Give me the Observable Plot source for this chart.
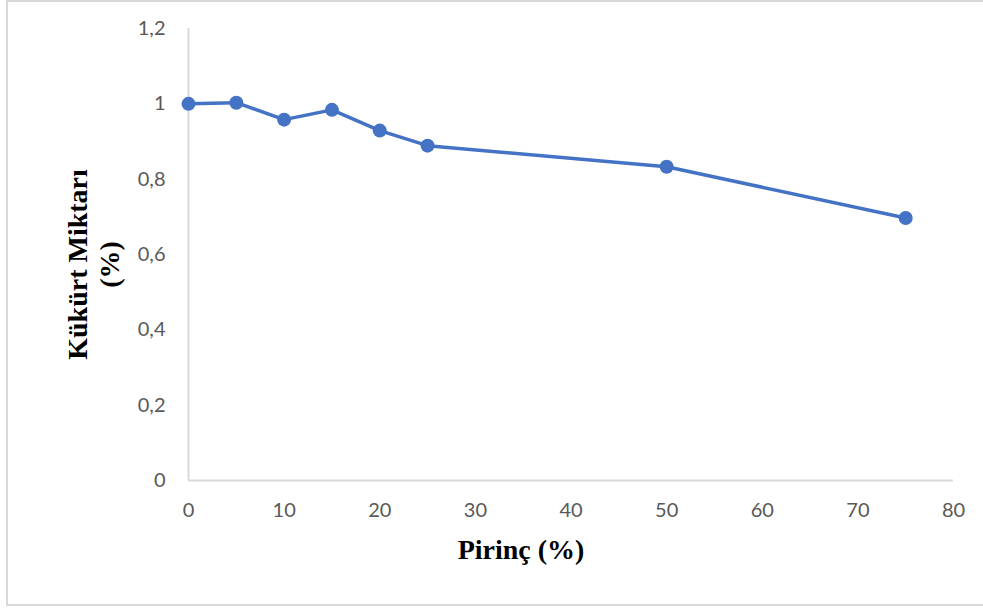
<!DOCTYPE html>
<html>
<head>
<meta charset="utf-8">
<script src="https://cdn.jsdelivr.net/npm/d3@7"></script>
<script src="https://cdn.jsdelivr.net/npm/@observablehq/plot@0.6"></script>
<style>
  html, body { margin: 0; padding: 0; background: #fff; overflow: hidden; }
  #wrap { position: relative; width: 983px; height: 608px; }
  #frame { position: absolute; left: 6px; top: 0px; width: 1000px; height: 606px;
           border: 2px solid #d9d9d9; box-sizing: border-box; pointer-events: none; }
  #chart { position: absolute; left: 0; top: 0; }
</style>
</head>
<body>
<div id="wrap"><div id="chart"></div><div id="frame"></div></div>
<script>
// Data
const pirinc = [0, 5, 10, 15, 20, 25, 50, 75];
const kukurt = [1.0, 1.003, 0.958, 0.984, 0.929, 0.889, 0.833, 0.697];

const xTicks = [0, 10, 20, 30, 40, 50, 60, 70, 80];
const yTicks = [0, 0.2, 0.4, 0.6, 0.8, 1, 1.2];
const yTickLabels = ["0", "0,2", "0,4", "0,6", "0,8", "1", "1,2"];

const xTitle = "Pirinç (%)";
const yTitle = "Kükürt Miktarı\n(%)";

const data = pirinc.map((x, i) => ({x, y: kukurt[i]}));

const blue = "#4472c4";
const axisGray = "#d9d9d9";
const tickColor = "#595959";
const tickFont = "Lato, 'Open Sans', sans-serif";
const titleFont = "'Liberation Serif', 'Times New Roman', serif";

const chart = Plot.plot({
  width: 983,
  height: 608,
  marginLeft: 188,
  marginRight: 30,
  marginTop: 28,
  marginBottom: 128,
  style: {fontFamily: tickFont, fontSize: "20px", background: "transparent"},
  x: {domain: [0, 80], label: null},
  y: {domain: [0, 1.2], label: null},
  marks: [
    Plot.axisX(xTicks, {tickSize: 0, tickPadding: 22, fontSize: 20, fill: tickColor, fontFamily: tickFont, label: null}),
    Plot.axisY(yTicks, {tickSize: 0, tickPadding: 23, fontSize: 20, fill: tickColor, fontFamily: tickFont, label: null,
      tickFormat: d => yTickLabels[yTicks.indexOf(d)]}),
    Plot.ruleX([0], {stroke: axisGray, strokeWidth: 2}),
    Plot.ruleY([0], {stroke: axisGray, strokeWidth: 2}),
    Plot.line(data, {x: "x", y: "y", stroke: blue, strokeWidth: 3.5}),
    Plot.dot(data, {x: "x", y: "y", r: 7, fill: blue, stroke: "none"}),
    Plot.text([xTitle], {frameAnchor: "bottom", dx: -50, dy: 70, text: d => d,
      textAnchor: "middle", lineAnchor: "middle",
      fontFamily: titleFont, fontWeight: "bold", fontSize: 28, fill: "#000"}),
    Plot.text([yTitle], {frameAnchor: "left", dx: -96, dy: 10, rotate: -90, text: d => d, lineHeight: 1.14,
      textAnchor: "middle", lineAnchor: "middle",
      fontFamily: titleFont, fontWeight: "bold", fontSize: 28, fill: "#000"})
  ]
});
document.getElementById("chart").appendChild(chart);
</script>
</body>
</html>
